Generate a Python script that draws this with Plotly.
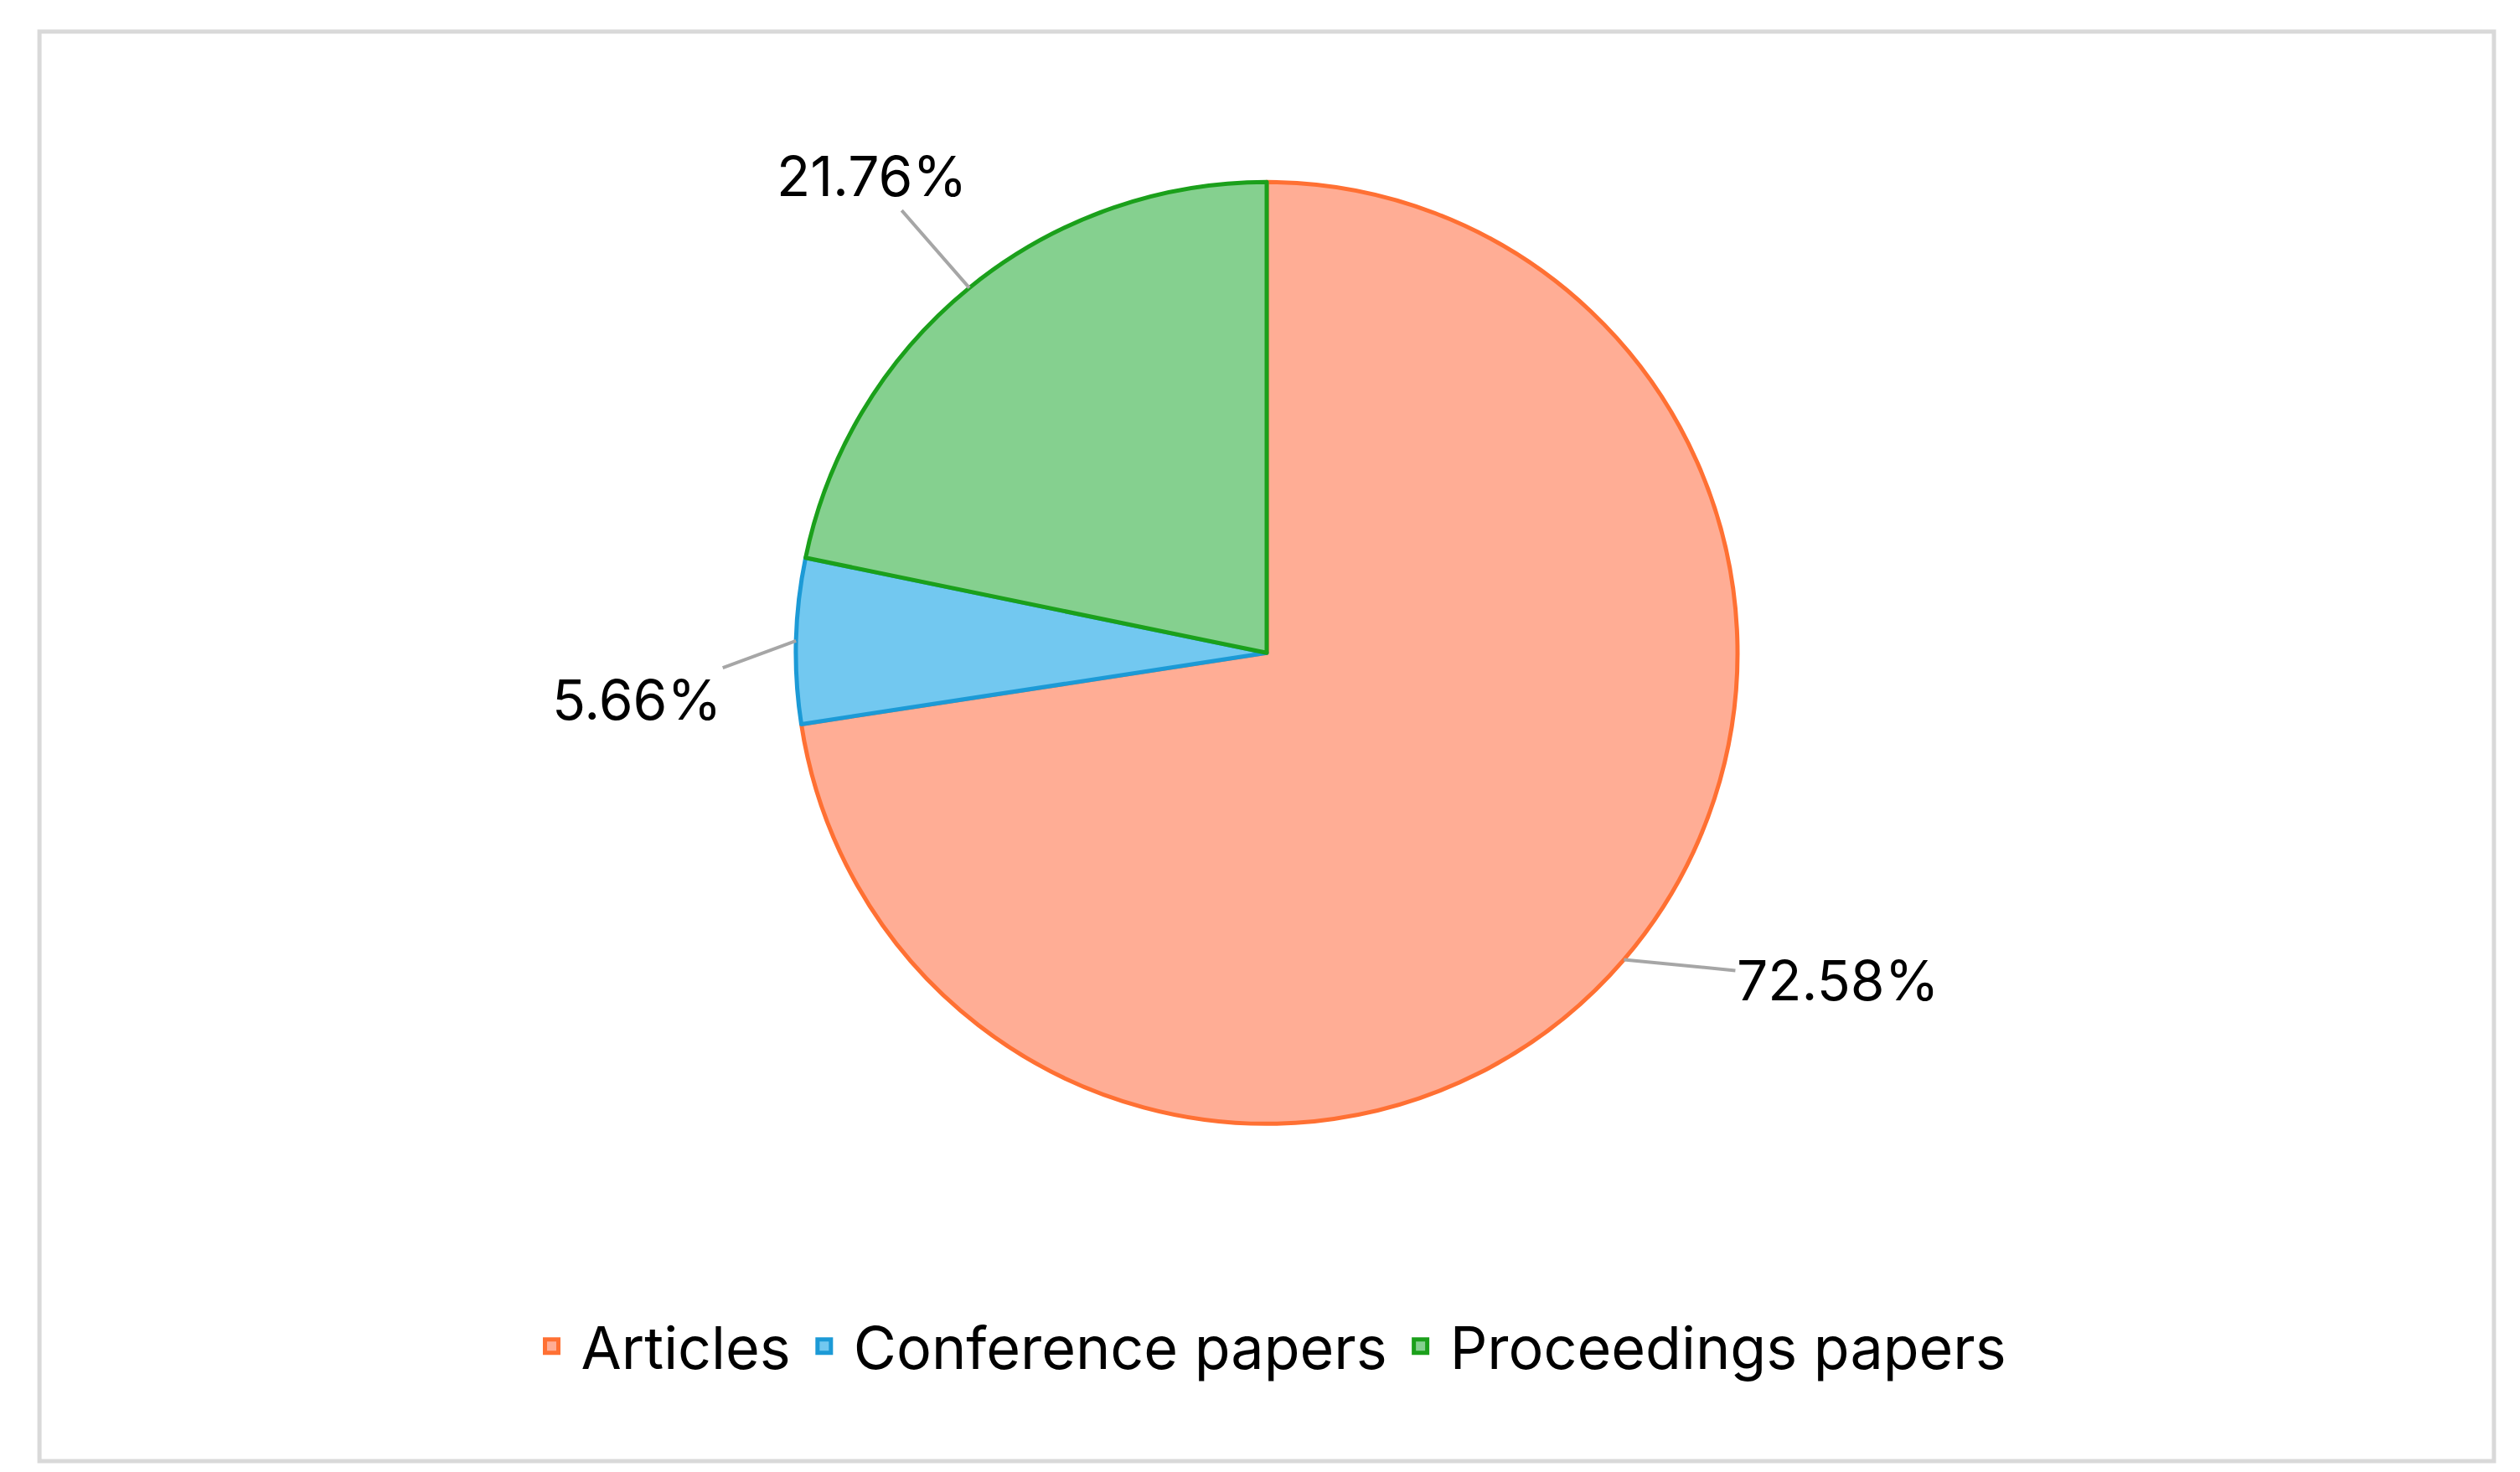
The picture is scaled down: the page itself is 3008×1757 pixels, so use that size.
import math
import plotly.graph_objects as go

labels = ["Articles", "Conference papers", "Proceedings papers"]
shares = [72.58, 5.66, 21.76]
fills = ["#FFAD95", "#72C8F0", "#85D08F"]
edges = ["#FF7033", "#1C9AD6", "#1BA01B"]

W, H = 3008, 1757
cx, cy, r = 0.5, 0.561, 562
label_offsets = [(255, 25), (-190, 70), (-117, -134)]

fig = go.Figure(go.Pie(
    labels=labels, values=shares, sort=False, direction="clockwise", rotation=0,
    marker=dict(colors=fills, line=dict(color=edges, width=5)),
    textinfo="none", hoverinfo="label+percent", showlegend=False,
    domain=dict(x=[cx - r / W, cx + r / W], y=[cy - r / H, cy + r / H]),
))

# legend entries with larger square swatches
for name, fc, ec in zip(labels, fills, edges):
    fig.add_trace(go.Scatter(x=[None], y=[None], mode="markers", name=name,
                             marker=dict(symbol="square", size=42, color=fc,
                                         line=dict(color=ec, width=5))))

total = sum(shares)
start = 0.0
for v, (ox, oy) in zip(shares, label_offsets):
    mid = (start + v / 2) / total * 2 * math.pi
    start += v
    ex = cx + r * math.sin(mid) / W
    ey = cy + r * math.cos(mid) / H
    fig.add_annotation(x=ex, y=ey, xref="paper", yref="paper", ax=ox, ay=oy,
                       text=f"{v:.2f}%", showarrow=True, arrowhead=0,
                       arrowcolor="#A6A6A6", arrowwidth=4,
                       font=dict(size=66, color="#000000"))

fig.add_shape(type="rect", xref="paper", yref="paper", x0=0.013, x1=0.987, y0=0.012, y1=0.983,
              line=dict(color="#D9D9D9", width=5))

fig.update_layout(
    width=W, height=H, margin=dict(l=0, r=0, t=0, b=0),
    paper_bgcolor="white", plot_bgcolor="white",
    xaxis=dict(visible=False), yaxis=dict(visible=False),
    font=dict(family="Inter, Open Sans, sans-serif", color="#000000"),
    legend=dict(orientation="h", x=0.5, xanchor="center", y=0.09, yanchor="middle",
                font=dict(size=70), traceorder="normal", itemwidth=60),
)

fig.write_html("out.html")
